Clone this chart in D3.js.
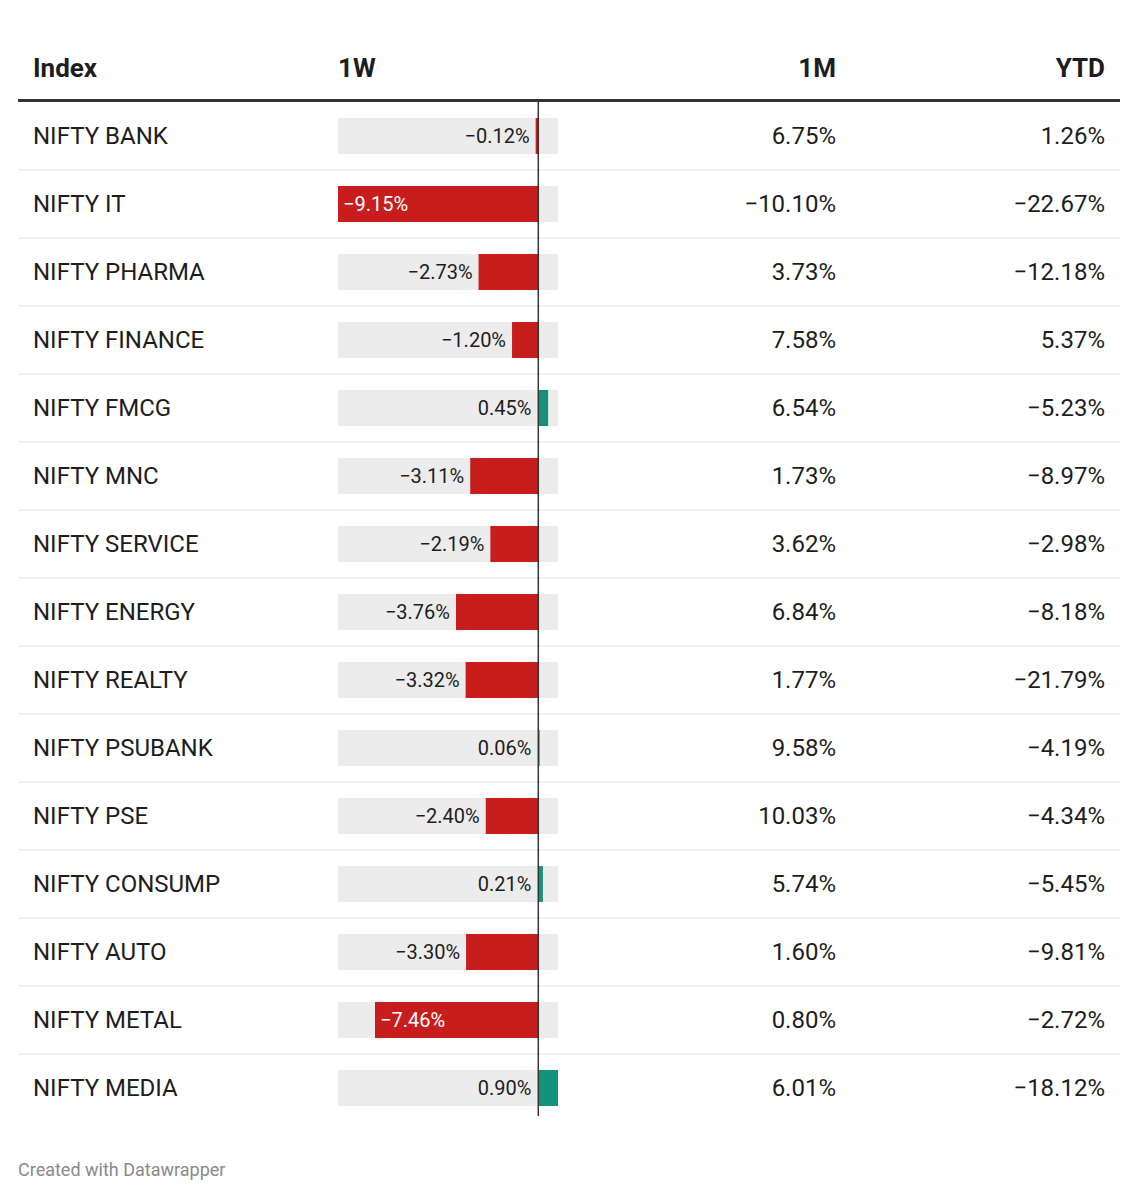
<!DOCTYPE html>
<html><head><meta charset="utf-8">
<script src="https://cdn.jsdelivr.net/npm/d3@7"></script>
<style>body{margin:0;background:#fff;font-family:Roboto,sans-serif;}</style>
</head><body><div id="chart"></div>
<script>
var names = ["NIFTY BANK","NIFTY IT","NIFTY PHARMA","NIFTY FINANCE","NIFTY FMCG","NIFTY MNC","NIFTY SERVICE","NIFTY ENERGY","NIFTY REALTY","NIFTY PSUBANK","NIFTY PSE","NIFTY CONSUMP","NIFTY AUTO","NIFTY METAL","NIFTY MEDIA"];
var week = [-0.12,-9.15,-2.73,-1.20,0.45,-3.11,-2.19,-3.76,-3.32,0.06,-2.40,0.21,-3.30,-7.46,0.90];
var month = [6.75,-10.10,3.73,7.58,6.54,1.73,3.62,6.84,1.77,9.58,10.03,5.74,1.60,0.80,6.01];
var ytd = [1.26,-22.67,-12.18,5.37,-5.23,-8.97,-2.98,-8.18,-21.79,-4.19,-4.34,-5.45,-9.81,-2.72,-18.12];
var headers = ["Index","1W","1M","YTD"];

function fmt(v){ return (v<0 ? "\u2212" : "") + Math.abs(v).toFixed(2) + "%"; }

var svg = d3.select("#chart").append("svg").attr("width",1139).attr("height",1200);
var rowH = 68, top0 = 102;
var x = d3.scaleLinear().domain([d3.min(week), d3.max(week)]).range([338,558]);
var y = d3.scaleBand().domain(names).range([top0, top0 + rowH*names.length]);

// header
var hy = 77;
svg.append("text").attr("x",33).attr("y",hy).text(headers[0]);
svg.append("text").attr("x",338).attr("y",hy).text(headers[1]);
svg.append("text").attr("x",836).attr("y",hy).attr("text-anchor","end").text(headers[2]);
svg.append("text").attr("x",1105).attr("y",hy).attr("text-anchor","end").text(headers[3]);
svg.selectAll("text").style("font-size","26px").style("font-weight","700").attr("fill","#1d1d1d");
svg.append("rect").attr("x",18).attr("y",99).attr("width",1102).attr("height",3).attr("fill","#333");

var row = svg.selectAll(".row").data(names).enter().append("g")
  .attr("transform", function(d){ return "translate(0," + y(d) + ")"; });

row.filter(function(d,i){ return i < names.length-1; }).append("line")
  .attr("x1",18).attr("x2",1120).attr("y1",rowH).attr("y2",rowH).attr("stroke","#e3e3e3");

row.append("text").attr("x",33).attr("y",rowH/2+8).text(function(d){ return d; });
row.append("rect").attr("x",338).attr("y",16).attr("width",220).attr("height",36).attr("fill","#ececec");
row.append("rect")
  .attr("x",function(d,i){ return Math.min(x(0), x(week[i])); })
  .attr("y",16).attr("height",36)
  .attr("width",function(d,i){ return Math.abs(x(week[i]) - x(0)); })
  .attr("fill",function(d,i){ return week[i] < 0 ? "#c71e1d" : "#15937a"; });
row.append("text")
  .attr("x",function(d,i){
    var w = week[i];
    if (w >= 0) return x(0) - 7;
    if (x(0) - x(w) > 150) return x(w) + 5;
    return x(w) - 6;
  })
  .attr("y",rowH/2+7)
  .attr("text-anchor",function(d,i){ return (week[i] < 0 && x(0)-x(week[i]) > 150) ? "start" : "end"; })
  .attr("fill",function(d,i){ return (week[i] < 0 && x(0)-x(week[i]) > 150) ? "#fff" : "#1d1d1d"; })
  .style("font-size","20px")
  .text(function(d,i){ return fmt(week[i]); });
row.append("text").attr("x",836).attr("y",rowH/2+8).attr("text-anchor","end").text(function(d,i){ return fmt(month[i]); });
row.append("text").attr("x",1105).attr("y",rowH/2+8).attr("text-anchor","end").text(function(d,i){ return fmt(ytd[i]); });
row.selectAll("text").filter(function(){ return !this.style.fontSize; }).style("font-size","24px").attr("fill","#1d1d1d");

svg.append("line").attr("x1",x(0)).attr("x2",x(0)).attr("y1",102).attr("y2",top0 + rowH*names.length - 6)
  .attr("stroke","#333").attr("stroke-width",1.5);

svg.append("text").attr("x",18).attr("y",1176).attr("fill","#8a8a8a").style("font-size","18px").text("Created with Datawrapper");
</script></body></html>
